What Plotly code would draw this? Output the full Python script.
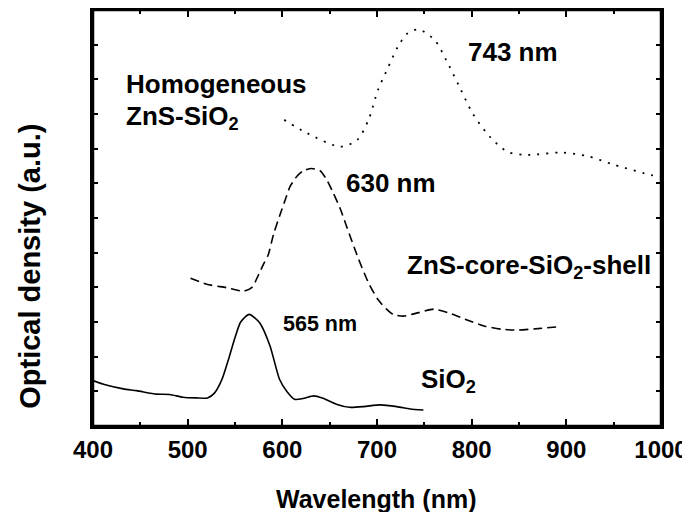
import plotly.graph_objects as go

# SiO2 (solid)
sio2_x = [400, 414, 432, 446, 467, 481, 495, 509, 521, 528, 536, 544, 550, 556, 565, 576, 587, 597, 605, 613, 623, 633, 643, 657, 671, 686, 703, 721, 735, 749]
sio2_y = [1.31, 1.18, 1.07, 1.02, 0.92, 0.91, 0.83, 0.81, 0.81, 0.94, 1.33, 2.00, 2.55, 3.00, 3.22, 2.98, 2.31, 1.35, 0.99, 0.77, 0.80, 0.87, 0.80, 0.63, 0.54, 0.56, 0.61, 0.56, 0.49, 0.46]

# ZnS-core-SiO2-shell (dashed)
core_x = [503, 520, 541, 559, 568, 575, 580, 585, 591, 598, 603, 608, 615, 622, 631, 640, 647, 654, 661, 668, 680, 691, 701, 710, 717, 728, 744, 760, 775, 793, 814, 832, 849, 870, 891]
core_y = [4.26, 4.09, 3.99, 3.89, 4.00, 4.37, 4.66, 4.93, 5.56, 6.13, 6.52, 6.90, 7.19, 7.36, 7.43, 7.36, 7.10, 6.71, 6.28, 5.75, 4.85, 4.13, 3.65, 3.37, 3.22, 3.17, 3.27, 3.37, 3.27, 3.08, 2.88, 2.79, 2.77, 2.81, 2.86]

# Homogeneous ZnS-SiO2 (dotted)
homo_x = [602, 626, 661, 679, 691, 701, 712, 722, 732, 744, 761, 773, 787, 801, 819, 838, 859, 895, 923, 951, 990, 1000]
homo_y = [8.83, 8.45, 8.06, 8.25, 8.83, 9.69, 10.36, 10.94, 11.32, 11.44, 11.13, 10.56, 9.79, 9.02, 8.35, 7.91, 7.82, 7.89, 7.78, 7.53, 7.24, 7.20]

x_ticks = [400, 500, 600, 700, 800, 900, 1000]

FONT = "Liberation Sans, Arial, sans-serif"

fig = go.Figure()
fig.add_trace(go.Scatter(x=sio2_x, y=sio2_y, mode="lines",
                         line=dict(color="black", width=1.6, shape="spline", smoothing=0.6)))
fig.add_trace(go.Scatter(x=core_x, y=core_y, mode="lines",
                         line=dict(color="black", width=1.6, dash="9px,5px", shape="spline", smoothing=0.6)))
fig.add_trace(go.Scatter(x=homo_x, y=homo_y, mode="lines",
                         line=dict(color="black", width=1.8, dash="2px,7px", shape="spline", smoothing=0.8)))

def ann(text, x, y, size=26):
    fig.add_annotation(text=text, x=x, y=y, xref="x", yref="y", xanchor="left", yanchor="middle",
                       showarrow=False, font=dict(family=FONT, size=size, color="black", weight="bold"))

ann("Homogeneous", 433, 9.86)
ann("ZnS-SiO<sub>2</sub>", 433, 8.9)
ann("743 nm", 794, 10.79)
ann("630 nm", 665, 7.01)
ann("ZnS-core-SiO<sub>2</sub>-shell", 730, 4.6)
ann("565 nm", 599, 2.93, size=21.5)
ann("SiO<sub>2</sub>", 744, 1.32)

# axis titles
fig.add_annotation(text="Wavelength (nm)", x=0.498, y=-0.175, xref="paper", yref="paper",
                   xanchor="center", yanchor="middle", showarrow=False,
                   font=dict(family=FONT, size=25, color="black", weight="bold"))
fig.add_annotation(text="Optical density (a.u.)", x=-0.111, y=0.385, xref="paper", yref="paper",
                   xanchor="center", yanchor="middle", showarrow=False, textangle=-90,
                   font=dict(family=FONT, size=29, color="black", weight="bold"))

# frame
fig.add_shape(type="rect", xref="paper", yref="paper", x0=0, y0=0, x1=1, y1=1,
              line=dict(color="black", width=2.5), layer="above")

# page body has an 8px margin, so the figure is 8px smaller and margins shifted
fig.update_layout(
    width=682, height=504,
    margin=dict(l=85, r=29, t=2, b=86, autoexpand=False),
    plot_bgcolor="white", paper_bgcolor="white",
    showlegend=False,
    font=dict(family=FONT, color="black"),
)
fig.update_xaxes(
    range=[400, 1000], tickvals=x_ticks, ticktext=[str(v) for v in x_ticks],
    ticks="inside", ticklen=7, tickwidth=1.5, tickcolor="black",
    minor=dict(ticks="inside", dtick=50, ticklen=4, tickwidth=1.5, tickcolor="black"),
    showline=True, linewidth=2.5, linecolor="black", mirror="allticks",
    showgrid=False, zeroline=False, automargin=False,
    tickfont=dict(family=FONT, size=24, color="black", weight="bold"),
)
fig.update_yaxes(
    range=[0, 12], dtick=1, showticklabels=False,
    ticks="inside", ticklen=5, tickwidth=1.5, tickcolor="black",
    showline=True, linewidth=2.5, linecolor="black", mirror="allticks",
    showgrid=False, zeroline=False, automargin=False,
)

fig.write_html("out.html")
